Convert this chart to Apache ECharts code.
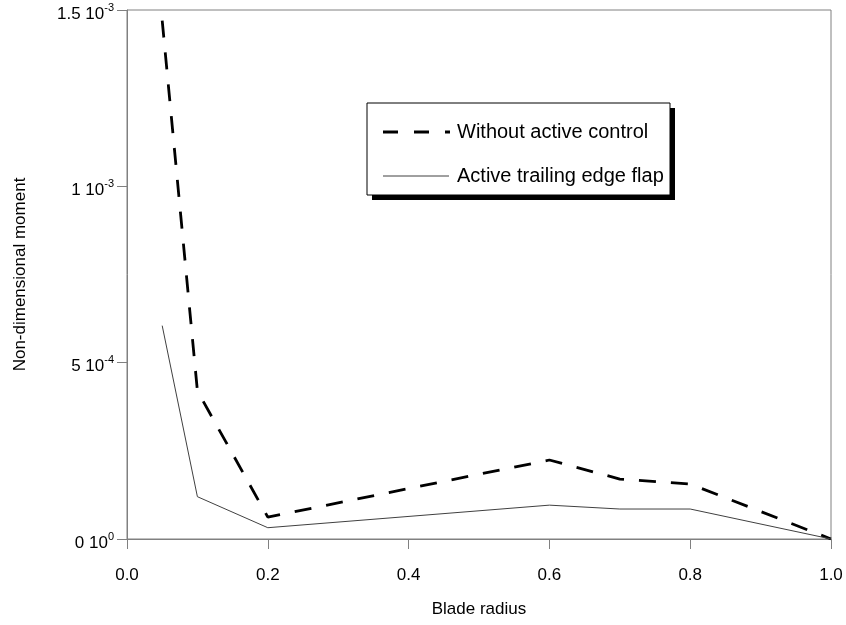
<!DOCTYPE html>
<html>
<head>
<meta charset="utf-8">
<script src="https://cdn.jsdelivr.net/npm/echarts@6/dist/echarts.min.js"></script>
<style>
  html, body { margin: 0; padding: 0; background: #fff; }
  #chart { width: 846px; height: 625px; }
</style>
</head>
<body>
<div id="chart"></div>
<script>
// Blade radius stations
var radius = [0.05, 0.1, 0.2, 0.6, 0.7, 0.8, 1.0];
// Non-dimensional moment, uncontrolled blade
var withoutControl = [1.47e-3, 0.42e-3, 0.062e-3, 0.224e-3, 0.17e-3, 0.156e-3, 0.0];
// Non-dimensional moment, active trailing edge flap
var activeFlap = [0.605e-3, 0.12e-3, 0.032e-3, 0.096e-3, 0.085e-3, 0.085e-3, 0.0];

// Y tick labels as mantissa / power of ten
var yTickValues = [0, 5e-4, 1e-3, 1.5e-3];
var yTickMantissa = ['0', '5', '1', '1.5'];
var yTickExponent = ['0', '-4', '-3', '-3'];

var seriesNames = ['Without active control', 'Active trailing edge flap'];

function pairs(xs, ys) {
  return xs.map(function (x, i) { return [x, ys[i]]; });
}

var FONT = 'Liberation Sans, Arial, sans-serif';
var AXIS_COLOR = '#808080';

var chart = echarts.init(document.getElementById('chart'));

var legendBox = { x: 367, y: 103, w: 303, h: 92 };

chart.setOption({
  animation: false,
  backgroundColor: '#fff',
  grid: {
    left: 127, right: 15, top: 10, bottom: 86,
    show: true, borderColor: AXIS_COLOR, borderWidth: 1, backgroundColor: 'transparent'
  },
  xAxis: {
    type: 'value', min: 0, max: 1, interval: 0.2,
    name: 'Blade radius', nameLocation: 'middle', nameGap: 62,
    nameTextStyle: { fontFamily: FONT, fontSize: 17, color: '#000' },
    axisLine: { show: true, lineStyle: { color: AXIS_COLOR, width: 1 } },
    axisTick: { show: true, inside: false, length: 10, lineStyle: { color: AXIS_COLOR } },
    axisLabel: {
      margin: 28, fontFamily: FONT, fontSize: 17, color: '#000',
      formatter: function (v) { return v.toFixed(1); }
    },
    splitLine: { show: false }
  },
  yAxis: {
    type: 'value', min: 0, max: 1.5e-3, interval: 5e-4,
    name: 'Non-dimensional moment', nameLocation: 'middle', nameGap: 98,
    nameTextStyle: { fontFamily: FONT, fontSize: 17, color: '#000' },
    axisLine: { show: true, lineStyle: { color: AXIS_COLOR, width: 1 } },
    axisTick: { show: true, inside: false, length: 10, lineStyle: { color: AXIS_COLOR } },
    axisLabel: {
      margin: 13,
      padding: [8, 0, 0, 0],
      formatter: function (v) {
        var i = yTickValues.findIndex(function (t) { return Math.abs(t - v) < 1e-9; });
        if (i < 0) return '';
        return '{m|' + yTickMantissa[i] + ' 10}{e|' + yTickExponent[i] + '}';
      },
      rich: {
        m: { fontFamily: FONT, fontSize: 17, color: '#000', lineHeight: 24 },
        e: { fontFamily: FONT, fontSize: 11, color: '#000', lineHeight: 12, verticalAlign: 'top' }
      }
    },
    splitLine: { show: false }
  },
  series: [
    {
      name: seriesNames[0], type: 'line', data: pairs(radius, withoutControl),
      symbol: 'none', silent: true,
      lineStyle: { color: '#000', width: 2.8, type: [17, 15] }
    },
    {
      name: seriesNames[1], type: 'line', data: pairs(radius, activeFlap),
      symbol: 'none', silent: true,
      lineStyle: { color: '#404040', width: 1 }
    }
  ],
  graphic: [
    { type: 'rect', shape: { x: legendBox.x + 5, y: legendBox.y + 5, width: legendBox.w, height: legendBox.h },
      style: { fill: '#000' }, z: 10 },
    { type: 'rect', shape: { x: legendBox.x, y: legendBox.y, width: legendBox.w, height: legendBox.h },
      style: { fill: '#fff', stroke: '#000', lineWidth: 1 }, z: 11 },
    { type: 'line', shape: { x1: 383, y1: 132, x2: 450, y2: 132 },
      style: { stroke: '#000', lineWidth: 2.8, lineDash: [15, 16] }, z: 12 },
    { type: 'text', x: 457, y: 132, z: 12,
      style: { text: seriesNames[0], fontFamily: FONT, fontSize: 20, fill: '#000', verticalAlign: 'middle' } },
    { type: 'line', shape: { x1: 383, y1: 176, x2: 449, y2: 176 },
      style: { stroke: '#404040', lineWidth: 1 }, z: 12 },
    { type: 'text', x: 457, y: 176, z: 12,
      style: { text: seriesNames[1], fontFamily: FONT, fontSize: 20, fill: '#000', verticalAlign: 'middle' } }
  ]
});
</script>
</body>
</html>
